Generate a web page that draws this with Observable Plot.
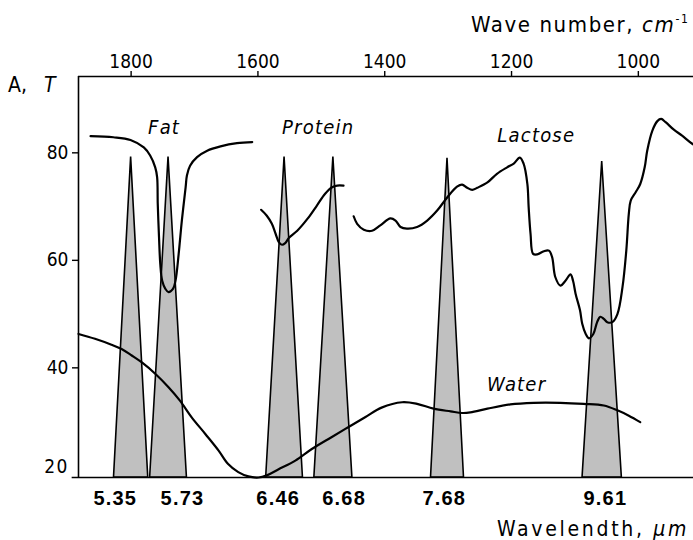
<!DOCTYPE html>
<html>
<head>
<meta charset="utf-8">
<script src="https://cdn.jsdelivr.net/npm/d3@7"></script>
<script src="https://cdn.jsdelivr.net/npm/@observablehq/plot@0.6"></script>
<style>
  html, body { margin: 0; padding: 0; background: white; overflow: hidden; }
  #chart svg { display: block; }
</style>
</head>
<body>
<div id="chart"></div>
<script>
// ---- Data ----
// Axis ticks
const waveTicks = [1800, 1600, 1400, 1200, 1000];
const transTicks = [40, 60, 80];
const transBottomTick = 20;

// Optical filters (triangles): centre wave number, half width (cm-1), peak T
const filterCenter = [1800, 1741, 1558, 1481, 1301, 1057];
const filterHalf = [27, 29, 29, 30, 26, 31];
const filterPeak = [79.2, 79.2, 79.2, 79.2, 79.0, 78.4];

// Wavelength labels (µm) and where they sit on the wave-number axis
const wavelengthLabels = ["5.35", "5.73", "6.46", "6.68", "7.68", "9.61"];
const wavelengthLabelPos = [1825, 1719, 1568, 1464, 1306, 1052];

// Fat spectrum
const fatWave = [1864, 1828, 1801, 1780, 1770, 1762, 1759, 1758, 1756, 1754, 1751, 1746, 1741, 1734, 1730, 1725, 1720, 1714, 1712, 1707, 1696, 1680, 1659, 1633, 1609];
const fatT = [83.1, 82.9, 82.4, 81.0, 79.5, 77.3, 75.5, 70.5, 64.3, 59.3, 56.2, 54.7, 54.1, 54.7, 56.2, 61.2, 67.4, 73.6, 75.8, 77.6, 79.2, 80.4, 81.2, 81.8, 82.0];

// Protein spectrum
const proteinWave = [1595, 1586, 1578, 1572, 1567, 1562, 1557, 1551, 1538, 1522, 1507, 1494, 1483, 1475, 1465];
const proteinT = [69.4, 68.3, 66.8, 64.9, 63.4, 62.9, 63.2, 64.2, 65.5, 67.7, 70.2, 72.4, 73.6, 73.9, 73.9];

// Lactose spectrum
const lactoseWave = [1449, 1443.5, 1433, 1420, 1407, 1391, 1383, 1375, 1365, 1349, 1333, 1317, 1301.5, 1286, 1278, 1270, 1262, 1254, 1238, 1223, 1207, 1196.5, 1187, 1181, 1175, 1173, 1170, 1166, 1159.5, 1149, 1141, 1136, 1131, 1123, 1115, 1107, 1103, 1099, 1092, 1088.5, 1083, 1078, 1071, 1065, 1060, 1054.5, 1049, 1041, 1033, 1025, 1019, 1015, 1012, 1004, 997, 990, 986, 978, 970, 964, 957, 944, 931, 915, 902];
const lactoseT = [68.2, 66.8, 65.7, 65.5, 66.5, 67.8, 67.4, 66.2, 65.9, 66.2, 67.4, 69.3, 71.7, 73.7, 74.1, 73.5, 73.1, 73.5, 74.5, 76.1, 77.3, 78.0, 79.1, 78.0, 74.2, 69.9, 64.9, 61.2, 61.1, 61.7, 61.8, 60.6, 56.9, 55.3, 56.2, 57.4, 56.2, 53.8, 50.7, 48.2, 46.3, 45.5, 46.3, 48.5, 49.5, 49.1, 48.5, 48.5, 50.0, 55.0, 61.8, 68.7, 71.1, 72.7, 74.2, 77.3, 80.4, 84.1, 85.9, 86.3, 85.7, 84.3, 83.2, 81.7, 81.0];

// Water spectrum
const waterWave = [1883, 1857, 1831, 1815, 1799, 1783, 1762, 1741, 1723, 1704.5, 1683, 1662, 1647, 1631, 1615, 1599, 1586, 1568, 1541, 1515, 1484, 1457, 1431, 1405, 1372.5, 1349, 1323, 1296, 1278, 1265, 1238, 1202, 1165, 1123, 1086, 1054.5, 1033, 1015, 997];
const waterT = [46.3, 45.4, 44.3, 43.5, 42.3, 41.0, 38.9, 36.4, 33.9, 30.8, 27.7, 24.6, 22.1, 20.6, 19.8, 19.6, 20.0, 21.1, 22.75, 24.9, 27.1, 29.0, 30.8, 32.6, 33.6, 33.3, 32.4, 31.9, 31.6, 31.7, 32.4, 33.2, 33.5, 33.5, 33.3, 33.0, 32.1, 31.1, 29.9];

// Series labels
const seriesNames = ["Fat", "Protein", "Lactose", "Water"];
const seriesLabelWave = [1748, 1505, 1161, 1192];
const seriesLabelT = [84.7, 84.7, 83.2, 36.9];

// ---- Build ----
const xDomain = [1883, 913];
const yDomain = [19.6, 94.2];

const triangles = filterCenter.flatMap((c, i) => [
  {id: i, w: c - filterHalf[i], T: yDomain[0]},
  {id: i, w: c, T: filterPeak[i]},
  {id: i, w: c + filterHalf[i], T: yDomain[0]}
]);
const series = (w, t) => w.map((d, i) => ({w: d, T: t[i]}));

const tickFont = "'DejaVu Sans Condensed', 'DejaVu Sans', sans-serif";

const plot = Plot.plot({
  width: 693,
  height: 540,
  marginLeft: 78,
  marginRight: 0,
  marginTop: 76,
  marginBottom: 63,
  style: {fontFamily: tickFont, fontSize: "19px", color: "black", background: "white", overflow: "hidden"},
  x: {domain: xDomain},
  y: {domain: yDomain},
  marks: [
    Plot.areaY(triangles, {x: "w", y1: yDomain[0], y2: "T", z: "id", fill: "#c0c0c0", stroke: "black", strokeWidth: 1.6, strokeLinejoin: "miter"}),
    Plot.line(series(fatWave, fatT), {x: "w", y: "T", curve: "catmull-rom", stroke: "black", strokeWidth: 2.2}),
    Plot.line(series(proteinWave, proteinT), {x: "w", y: "T", curve: "catmull-rom", stroke: "black", strokeWidth: 2.2}),
    Plot.line(series(lactoseWave, lactoseT), {x: "w", y: "T", curve: "catmull-rom", stroke: "black", strokeWidth: 2.2}),
    Plot.line(series(waterWave, waterT), {x: "w", y: "T", curve: "catmull-rom", stroke: "black", strokeWidth: 2.2}),
    Plot.ruleX([xDomain[0]], {stroke: "black", strokeWidth: 1.6}),
    Plot.ruleY([yDomain[1]], {stroke: "black", strokeWidth: 1.6}),
    Plot.ruleY([yDomain[0]], {x1: 1893, x2: xDomain[1] - 20, stroke: "black", strokeWidth: 1.6}),
    Plot.axisX(waveTicks, {anchor: "top", tickSize: 6, tickPadding: 3, label: null, fontSize: 19, strokeWidth: 1.4, tickFormat: d => String(d)}),
    Plot.axisY(transTicks, {anchor: "left", tickSize: 6, tickPadding: 4, label: null, fontSize: 19, strokeWidth: 1.4, tickFormat: d => String(d)}),
    Plot.text([transBottomTick], {x: xDomain[0], y: d => d, dx: -10, dy: -8, textAnchor: "end", fontSize: 19}),
    Plot.text(wavelengthLabels, {x: (d, i) => wavelengthLabelPos[i], y: yDomain[0], dy: 21, text: d => d, fontFamily: "'Liberation Sans', Arial, sans-serif", fontWeight: "bold", fontSize: 20}),
    Plot.text(seriesNames, {x: (d, i) => seriesLabelWave[i], y: (d, i) => seriesLabelT[i], text: d => d, fontStyle: "italic", fontSize: 20})
  ]
});

document.getElementById("chart").appendChild(plot);

const svg = d3.select(plot);
svg.selectAll("text").attr("fill", "black");
// letter spacing for labels
svg.selectAll("g[aria-label='text'] text").attr("letter-spacing", 1.2);

// Titles
const t1 = svg.append("text")
  .attr("x", 471).attr("y", 32)
  .attr("text-anchor", "start")
  .attr("font-family", tickFont).attr("font-size", 22)
  .attr("letter-spacing", 1.6).attr("fill", "black");
t1.append("tspan").text("Wave number, ");
t1.append("tspan").attr("font-style", "italic").text("cm");
t1.append("tspan").attr("font-size", 12).attr("dy", -9).text("-1");

const t2 = svg.append("text")
  .attr("x", 497).attr("y", 536)
  .attr("text-anchor", "start")
  .attr("font-family", tickFont).attr("font-size", 21)
  .attr("letter-spacing", 2.7).attr("fill", "black");
t2.append("tspan").text("Wavelendth, ");
t2.append("tspan").attr("font-style", "italic").text("µm");

const t3 = svg.append("text")
  .attr("x", 8).attr("y", 92)
  .attr("text-anchor", "start")
  .attr("font-family", tickFont).attr("font-size", 21)
  .attr("fill", "black");
t3.append("tspan").text("A,");
t3.append("tspan").attr("x", 44).attr("font-style", "italic").text("T");
</script>
</body>
</html>
